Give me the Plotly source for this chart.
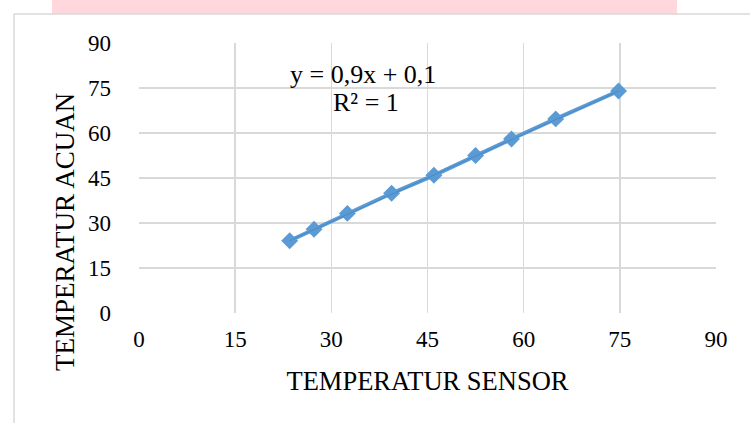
import plotly.graph_objects as go

sensor = [23.5, 27.3, 32.5, 39.4, 46.0, 52.5, 58.1, 65.0, 74.8]
acuan = [24.1, 27.9, 33.2, 39.9, 45.9, 52.5, 58.0, 64.7, 74.0]
ticks = [0, 15, 30, 45, 60, 75, 90]
eq_text = "y = 0,9x + 0,1"
r2_text = "R² = 1"
x_title = "TEMPERATUR SENSOR"
y_title = "TEMPERATUR ACUAN"

W, H = 750, 423
L, R, T, B = 139, 34, 43, 110
pw, ph = W - L - R, H - T - B

def px(x):
    return (x - L) / pw

def py(y):
    return (H - B - y) / ph

font = "Liberation Serif, Times New Roman, serif"

fig = go.Figure()
fig.add_trace(go.Scatter(
    x=sensor, y=acuan, mode="lines+markers",
    line=dict(color="#5B9BD5", width=4),
    marker=dict(symbol="diamond", size=13, color="#5B9BD5"),
    showlegend=False, hoverinfo="skip",
))
fig.add_trace(go.Scatter(
    x=[sensor[0], sensor[-1]], y=[acuan[0], acuan[-1]], mode="lines",
    line=dict(color="#4A8AC4", width=1),
    showlegend=False, hoverinfo="skip",
))

axis_common = dict(
    range=[0, 90], tickvals=ticks, ticktext=[str(t) for t in ticks],
    showgrid=True, gridcolor="#D9D9D9", gridwidth=1.5,
    zeroline=False, showline=False, ticks="",
    tickfont=dict(family=font, size=23, color="#000000"),
    fixedrange=True,
)
fig.update_xaxes(**axis_common, ticklabelstandoff=10,
                 title=dict(text=x_title, font=dict(family=font, size=26.5, color="#000"), standoff=20))
fig.update_yaxes(**axis_common, ticklabelstandoff=27)

fig.add_annotation(x=px(65), y=py(232), xref="paper", yref="paper", text=y_title, textangle=-90,
                   xanchor="center", yanchor="middle",
                   showarrow=False, font=dict(family=font, size=27, color="#000"))
fig.add_annotation(x=px(363), y=py(75), xref="paper", yref="paper", text=eq_text,
                   xanchor="center", yanchor="middle",
                   showarrow=False, font=dict(family=font, size=26, color="#000"))
fig.add_annotation(x=px(366), y=py(102), xref="paper", yref="paper", text=r2_text,
                   xanchor="center", yanchor="middle",
                   showarrow=False, font=dict(family=font, size=26, color="#000"))

# outer chart border and pink strip
fig.add_shape(type="rect", xref="paper", yref="paper", x0=px(52), x1=px(677), y0=py(14), y1=py(-2),
              fillcolor="#FFD7DC", line=dict(width=0), layer="below")
fig.add_shape(type="line", xref="paper", yref="paper", x0=px(14), x1=px(760), y0=py(14), y1=py(14),
              line=dict(color="#D9D9D9", width=1.5))
fig.add_shape(type="line", xref="paper", yref="paper", x0=px(14), x1=px(14), y0=py(14), y1=py(430),
              line=dict(color="#D9D9D9", width=1.5))

fig.update_layout(
    width=W, height=H,
    margin=dict(l=L, r=R, t=T, b=B),
    paper_bgcolor="white", plot_bgcolor="white",
    hovermode=False,
)

fig.write_html("out.html", config={"displayModeBar": False, "staticPlot": True},
               post_script="document.body.style.margin='0';document.body.style.overflow='hidden';")
